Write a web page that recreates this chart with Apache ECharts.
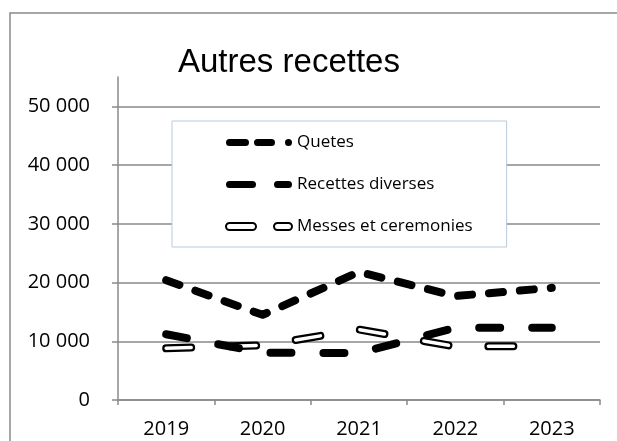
<!DOCTYPE html>
<html>
<head>
<meta charset="utf-8">
<script src="https://cdn.jsdelivr.net/npm/echarts@6/dist/echarts.min.js"></script>
<style>
html,body{margin:0;padding:0;background:#fff;}
#chart{width:617px;height:441px;}
</style>
</head>
<body>
<div id="chart"></div>
<script>
const categories = ['2019', '2020', '2021', '2022', '2023'];
const quetes = [20400, 14500, 21800, 17700, 19100];
const recettesDiverses = [11200, 8050, 8000, 12300, 12300];
const messesCeremonies = [8800, 9300, 12000, 9100, 9200];
const yTicks = [0, 10000, 20000, 30000, 40000, 50000];
const titleText = 'Autres recettes';

const chart = echarts.init(document.getElementById('chart'), null, {renderer: 'canvas'});

function pill(x0, x1, h) {
  const r = h / 2;
  return 'M' + (x0 + r) + ' 0 L' + (x1 - r) + ' 0 A' + r + ' ' + r + ' 0 0 1 ' + (x1 - r) + ' ' + h +
    ' L' + (x0 + r) + ' ' + h + ' A' + r + ' ' + r + ' 0 0 1 ' + (x0 + r) + ' 0 Z ';
}
const iconQ = 'path://' + pill(0, 23, 7) + pill(28, 49, 7) + 'M59 3.5 A3.5 3.5 0 1 1 66 3.5 A3.5 3.5 0 1 1 59 3.5 Z';
const iconR = 'path://' + pill(0, 30, 7) + pill(48, 66, 7);
const iconM = 'path://' + pill(0, 30, 7) + pill(48, 66, 7);

const fmt = v => v === 0 ? '0' : (v / 1000) + ' 000';

const option = {
  backgroundColor: '#fff',
  animation: false,
  title: {
    text: titleText,
    left: 178,
    top: 46,
    padding: 0,
    textStyle: {fontFamily: 'Liberation Sans', fontSize: 33, fontWeight: 'normal', color: '#000'}
  },
  graphic: [{
    type: 'rect',
    shape: {x: 10, y: 13, width: 640, height: 460},
    style: {fill: 'none', stroke: '#8a8a8a', lineWidth: 1.5},
    silent: true,
    z: -1
  }],
  grid: {left: 118, right: 17, top: 77, bottom: 41, containLabel: false},
  legend: {
    orient: 'vertical',
    left: 172,
    top: 121,
    padding: [13, 34, 12, 53],
    backgroundColor: '#fff',
    borderColor: '#b9c9dc',
    borderWidth: 1,
    itemWidth: 66,
    itemHeight: 7,
    itemGap: 25,
    textStyle: {fontFamily: 'Open Sans', fontSize: 17, color: '#000'},
    data: [
      {name: 'Quetes', icon: iconQ, itemStyle: {color: '#000', borderWidth: 0}},
      {name: 'Recettes diverses', icon: iconR, itemStyle: {color: '#000', borderWidth: 0}},
      {name: 'Messes et ceremonies', icon: iconM, itemStyle: {color: '#fff', borderColor: '#000', borderWidth: 2}}
    ],
    selectedMode: false
  },
  xAxis: {
    type: 'category',
    data: categories,
    boundaryGap: true,
    axisLine: {lineStyle: {color: '#8a8a8a', width: 1.5}},
    axisTick: {show: true, length: 5, lineStyle: {color: '#8a8a8a', width: 1.5}},
    axisLabel: {fontFamily: 'Open Sans', fontSize: 20, color: '#000', margin: 19}
  },
  yAxis: {
    type: 'value',
    min: 0,
    max: 55000,
    interval: 10000,
    axisLine: {show: true, lineStyle: {color: '#8a8a8a', width: 1.5}},
    axisTick: {show: true, length: 6, customValues: yTicks, lineStyle: {color: '#8a8a8a', width: 1.5}},
    axisLabel: {fontFamily: 'Open Sans', fontSize: 20, color: '#000', margin: 28, customValues: yTicks, formatter: fmt},
    splitLine: {show: true, lineStyle: {color: '#8a8a8a', width: 1.5}}
  },
  series: [
    {
      name: 'Messes et ceremonies',
      type: 'line',
      data: messesCeremonies,
      symbol: 'none',
      color: '#000',
      lineStyle: {color: '#000', width: 8, type: [25, 40], cap: 'round', join: 'round'}
    },
    {
      name: 'Messes_inner',
      type: 'line',
      data: messesCeremonies,
      symbol: 'none',
      color: '#fff',
      lineStyle: {color: '#fff', width: 3.5, type: [25, 40], cap: 'round', join: 'round'}
    },
    {
      name: 'Recettes diverses',
      type: 'line',
      data: recettesDiverses,
      symbol: 'none',
      color: '#000',
      lineStyle: {color: '#000', width: 8, type: [21, 32], cap: 'round', join: 'round'}
    },
    {
      name: 'Quetes',
      type: 'line',
      data: quetes,
      symbol: 'none',
      color: '#000',
      lineStyle: {color: '#000', width: 8, type: [14, 17], cap: 'round', join: 'round'}
    }
  ]
};
chart.setOption(option);
</script>
</body>
</html>
